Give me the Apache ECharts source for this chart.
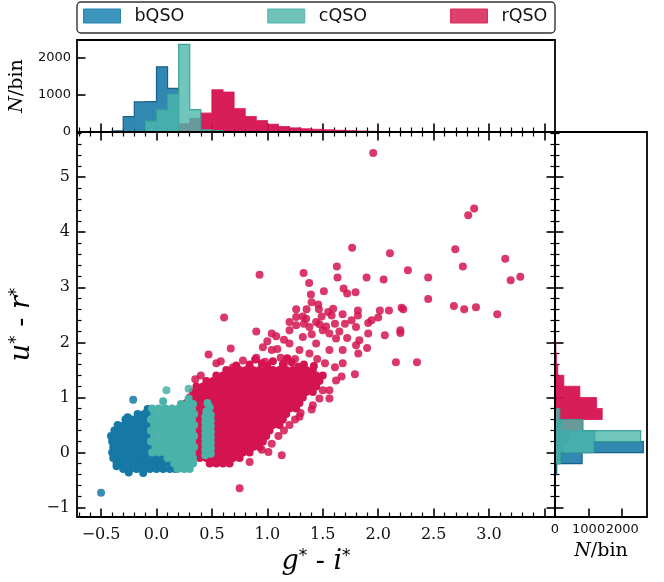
<!DOCTYPE html>
<html><head><meta charset="utf-8">
<script src="https://cdn.jsdelivr.net/npm/echarts@6/dist/echarts.min.js"></script>
<style>html,body{margin:0;padding:0;background:#fff;}#c{width:664px;height:582px;}</style>
</head><body><div id="c"></div>
<script>
// ---------------- DATA ----------------
const legendNames = ['bQSO', 'cQSO', 'rQSO'];

// main-plot ticks
const xMajorTicks = [-0.5, 0, 0.5, 1, 1.5, 2, 2.5, 3, 3.5];
const xTickLabels = [-0.5, 0, 0.5, 1, 1.5, 2, 2.5, 3];
const xMinorTicks = [-0.7,-0.6,-0.4,-0.3,-0.2,-0.1,0.1,0.2,0.3,0.4,0.6,0.7,0.8,0.9,1.1,1.2,1.3,1.4,1.6,1.7,1.8,1.9,2.1,2.2,2.3,2.4,2.6,2.7,2.8,2.9,3.1,3.2,3.3,3.4];
const yMajorTicks = [-1, 0, 1, 2, 3, 4, 5];
const yMinorTicks = [-0.8,-0.6,-0.4,-0.2,0.2,0.4,0.6,0.8,1.2,1.4,1.6,1.8,2.2,2.4,2.6,2.8,3.2,3.4,3.6,3.8,4.2,4.4,4.6,4.8,5.2,5.4,5.6,5.8];
const histTicks = [0, 1000, 2000];

// top histogram (g*-i*), bins of 0.1
const topEdges = [-0.4,-0.3,-0.2,-0.1,0.0,0.1,0.2,0.3,0.4,0.5,0.6,0.7,0.8,0.9,1.0,1.1,1.2,1.3,1.4,1.5,1.6,1.7,1.8,1.9,2.0];
const bTop = [30,410,805,815,1745,1170,0,0,0,0,0,0,0,0,0,0,0,0,0,0,0,0,0,0];
const cTop = [0,0,0,290,596,1015,2350,600,60,40,0,0,0,0,0,0,0,0,0,0,0,0,0,0];
const rTop = [0,0,0,0,0,0,220,363,505,1132,1070,625,414,303,205,147,110,85,70,60,45,35,25,18];

// right histogram (u*-r*), bins of 0.2
const rightEdges = [-0.4,-0.2,0.0,0.2,0.4,0.6,0.8,1.0,1.2,1.4,1.6,1.8,2.0,2.2,2.4,2.6];
const bRight = [50,806,2627,1185,200,0,0,0,0,0,0,0,0,0,0];
const cRight = [0,160,1155,2548,830,140,0,0,0,0,0,0,0,0,0];
const rRight = [0,100,250,400,820,1403,1235,737,260,80,40,25,15,10,8];

// scatter: bQSO dense cloud (g*-i*, u*-r*)
const bQSO_core = [
[-0.30,-0.3],[-0.24,-0.3],[-0.18,-0.3],[-0.12,-0.3],[-0.06,-0.3],[0.00,-0.3],[0.06,-0.3],[0.12,-0.3],[0.17,-0.3],
[-0.36,-0.2],[-0.30,-0.2],[-0.24,-0.2],[-0.18,-0.2],[-0.12,-0.2],[-0.06,-0.2],[0.00,-0.2],[0.06,-0.2],[0.12,-0.2],[0.18,-0.2],
[-0.39,-0.1],[-0.33,-0.1],[-0.27,-0.1],[-0.21,-0.1],[-0.15,-0.1],[-0.09,-0.1],[-0.03,-0.1],[0.03,-0.1],[0.09,-0.1],[0.15,-0.1],
[-0.40,0.0],[-0.34,0.0],[-0.28,0.0],[-0.22,0.0],[-0.16,0.0],[-0.10,0.0],[-0.04,0.0],[0.02,0.0],
[-0.39,0.1],[-0.33,0.1],[-0.27,0.1],[-0.21,0.1],[-0.15,0.1],[-0.09,0.1],[-0.03,0.1],
[-0.40,0.2],[-0.34,0.2],[-0.28,0.2],[-0.22,0.2],[-0.16,0.2],[-0.10,0.2],[-0.04,0.2],
[-0.39,0.3],[-0.33,0.3],[-0.27,0.3],[-0.21,0.3],[-0.15,0.3],[-0.09,0.3],[-0.03,0.3],
[-0.38,0.4],[-0.32,0.4],[-0.26,0.4],[-0.20,0.4],[-0.14,0.4],[-0.08,0.4],[-0.02,0.4],
[-0.35,0.5],[-0.29,0.5],[-0.23,0.5],[-0.17,0.5],[-0.11,0.5],[-0.05,0.5],[0.01,0.5],
[-0.28,0.6],[-0.22,0.6],[-0.16,0.6],[-0.10,0.6],[-0.04,0.6],
[-0.17,0.7],[-0.11,0.7],[-0.05,0.7],
[-0.08,0.79],[-0.26,0.64],[-0.36,-0.25],[-0.25,-0.36],[-0.12,-0.37],[-0.41,0.3]
];
const bQSO_outer = [[-0.21,0.96],[-0.50,-0.73]];

// scatter: cQSO dense cloud + strip
const cQSO_core = [
[0.19,-0.3],[0.25,-0.3],[0.30,-0.3],
[0.16,-0.2],[0.22,-0.2],[0.28,-0.2],[0.33,-0.2],
[0.10,-0.1],[0.16,-0.1],[0.22,-0.1],[0.28,-0.1],[0.33,-0.1],
[-0.04,0.0],[0.02,0.0],[0.08,0.0],[0.14,0.0],[0.20,0.0],[0.26,0.0],[0.32,0.0],
[-0.01,0.1],[0.05,0.1],[0.11,0.1],[0.17,0.1],[0.23,0.1],[0.29,0.1],[0.34,0.1],
[-0.05,0.2],[0.02,0.2],[0.08,0.2],[0.14,0.2],[0.20,0.2],[0.26,0.2],[0.32,0.2],
[-0.02,0.3],[0.05,0.3],[0.11,0.3],[0.17,0.3],[0.23,0.3],[0.29,0.3],[0.34,0.3],
[-0.05,0.4],[0.02,0.4],[0.08,0.4],[0.14,0.4],[0.20,0.4],[0.26,0.4],[0.32,0.4],
[-0.02,0.5],[0.05,0.5],[0.11,0.5],[0.17,0.5],[0.23,0.5],[0.29,0.5],[0.34,0.5],
[-0.05,0.6],[0.02,0.6],[0.08,0.6],[0.14,0.6],[0.20,0.6],[0.26,0.6],[0.32,0.6],
[-0.02,0.7],[0.05,0.7],[0.11,0.7],[0.17,0.7],[0.23,0.7],[0.29,0.7],[0.34,0.7],
[-0.04,0.8],[0.02,0.8],[0.08,0.8],[0.14,0.8],[0.20,0.8],[0.26,0.8],[0.32,0.8],
[0.22,0.88],[0.28,0.88],[0.33,0.88],[0.29,0.98],[0.06,0.93],
[0.44,-0.05],[0.49,-0.02],[0.44,0.05],[0.49,0.08],[0.44,0.15],[0.49,0.18],[0.44,0.25],[0.49,0.28],[0.44,0.35],[0.49,0.38],
[0.44,0.45],[0.49,0.48],[0.44,0.55],[0.49,0.58],[0.44,0.65],[0.49,0.68],[0.45,0.75],[0.48,0.82],[0.46,0.90]
];
const cQSO_outer = [[0.09,1.13],[0.29,1.16]];

// scatter: rQSO dense core
const rQSO_core = [
[0.48,-0.2],[0.54,-0.2],[0.60,-0.2],[0.66,-0.2],
[0.39,-0.1],[0.45,-0.1],[0.51,-0.1],[0.57,-0.1],[0.63,-0.1],[0.69,-0.1],[0.75,-0.1],
[0.36,0],[0.42,0],[0.48,0],[0.54,0],[0.60,0],[0.66,0],[0.72,0],[0.78,0],[0.84,0],
[0.33,0.1],[0.39,0.1],[0.45,0.1],[0.51,0.1],[0.57,0.1],[0.63,0.1],[0.69,0.1],[0.75,0.1],[0.81,0.1],[0.87,0.1],[0.93,0.1],
[0.36,0.2],[0.42,0.2],[0.48,0.2],[0.54,0.2],[0.60,0.2],[0.66,0.2],[0.72,0.2],[0.78,0.2],[0.84,0.2],[0.90,0.2],[0.96,0.2],
[0.33,0.3],[0.39,0.3],[0.45,0.3],[0.51,0.3],[0.57,0.3],[0.63,0.3],[0.69,0.3],[0.75,0.3],[0.81,0.3],[0.87,0.3],[0.93,0.3],[0.99,0.3],
[0.36,0.4],[0.42,0.4],[0.48,0.4],[0.54,0.4],[0.60,0.4],[0.66,0.4],[0.72,0.4],[0.78,0.4],[0.84,0.4],[0.90,0.4],[0.96,0.4],[1.02,0.4],
[0.33,0.5],[0.39,0.5],[0.45,0.5],[0.51,0.5],[0.57,0.5],[0.63,0.5],[0.69,0.5],[0.75,0.5],[0.81,0.5],[0.87,0.5],[0.93,0.5],[0.99,0.5],[1.05,0.5],[1.11,0.5],
[0.36,0.6],[0.42,0.6],[0.48,0.6],[0.54,0.6],[0.60,0.6],[0.66,0.6],[0.72,0.6],[0.78,0.6],[0.84,0.6],[0.90,0.6],[0.96,0.6],[1.02,0.6],[1.08,0.6],[1.14,0.6],
[0.33,0.7],[0.39,0.7],[0.45,0.7],[0.51,0.7],[0.57,0.7],[0.63,0.7],[0.69,0.7],[0.75,0.7],[0.81,0.7],[0.87,0.7],[0.93,0.7],[0.99,0.7],[1.05,0.7],[1.11,0.7],[1.17,0.7],
[0.36,0.8],[0.42,0.8],[0.48,0.8],[0.54,0.8],[0.60,0.8],[0.66,0.8],[0.72,0.8],[0.78,0.8],[0.84,0.8],[0.90,0.8],[0.96,0.8],[1.02,0.8],[1.08,0.8],[1.14,0.8],[1.20,0.8],[1.26,0.8],
[0.27,0.9],[0.33,0.9],[0.39,0.9],[0.45,0.9],[0.51,0.9],[0.57,0.9],[0.63,0.9],[0.69,0.9],[0.75,0.9],[0.81,0.9],[0.87,0.9],[0.93,0.9],[0.99,0.9],[1.05,0.9],[1.11,0.9],[1.17,0.9],[1.23,0.9],[1.29,0.9],
[0.30,1.0],[0.36,1.0],[0.42,1.0],[0.48,1.0],[0.54,1.0],[0.60,1.0],[0.66,1.0],[0.72,1.0],[0.78,1.0],[0.84,1.0],[0.90,1.0],[0.96,1.0],[1.02,1.0],[1.08,1.0],[1.14,1.0],[1.20,1.0],[1.26,1.0],[1.32,1.0],
[0.33,1.1],[0.39,1.1],[0.45,1.1],[0.51,1.1],[0.57,1.1],[0.63,1.1],[0.69,1.1],[0.75,1.1],[0.81,1.1],[0.87,1.1],[0.93,1.1],[0.99,1.1],[1.05,1.1],[1.11,1.1],[1.17,1.1],[1.23,1.1],[1.29,1.1],[1.35,1.1],[1.41,1.1],
[0.36,1.2],[0.42,1.2],[0.48,1.2],[0.54,1.2],[0.60,1.2],[0.66,1.2],[0.72,1.2],[0.78,1.2],[0.84,1.2],[0.90,1.2],[0.96,1.2],[1.02,1.2],[1.08,1.2],[1.14,1.2],[1.20,1.2],[1.26,1.2],[1.32,1.2],[1.38,1.2],[1.44,1.2],
[0.45,1.3],[0.51,1.3],[0.57,1.3],[0.63,1.3],[0.69,1.3],[0.75,1.3],[0.81,1.3],[0.87,1.3],[0.93,1.3],[0.99,1.3],[1.05,1.3],[1.11,1.3],[1.17,1.3],[1.23,1.3],[1.29,1.3],[1.35,1.3],[1.41,1.3],[1.47,1.3],
[0.54,1.4],[0.60,1.4],[0.66,1.4],[0.72,1.4],[0.78,1.4],[0.84,1.4],[0.90,1.4],[0.96,1.4],[1.02,1.4],[1.08,1.4],[1.14,1.4],[1.20,1.4],[1.26,1.4],[1.32,1.4],[1.38,1.4],[1.44,1.4],[1.50,1.4],
[0.63,1.5],[0.69,1.5],[0.75,1.5],[0.81,1.5],[0.87,1.5],[0.93,1.5],[0.99,1.5],[1.05,1.5],[1.11,1.5],[1.17,1.5],[1.23,1.5],[1.29,1.5],[1.35,1.5],[1.41,1.5],
[0.72,1.58],[0.84,1.60],[0.95,1.62],[1.05,1.66],[1.14,1.60],[1.22,1.64],[1.33,1.60],[1.42,1.57],[1.00,1.57],[1.28,1.56],[0.89,1.69],[1.18,1.71]
];

// scatter: rQSO outskirts
const rQSO_outer = [
[1.955,5.44],[2.866,4.43],[2.812,4.31],[1.765,3.72],[2.106,3.62],[2.695,3.69],[3.146,3.52],[2.764,3.38],[1.627,3.38],[1.327,3.26],[0.93,3.23],
[2.268,3.31],[3.195,3.13],[3.282,3.19],[1.633,3.18],[1.895,3.18],[2.049,3.14],[2.451,3.18],[1.377,3.08],[1.688,2.98],[1.72,2.89],[1.796,2.91],
[1.51,2.93],[1.393,2.87],[1.399,2.73],[2.451,2.79],[2.683,2.66],[2.776,2.60],[2.882,2.64],[3.074,2.51],[2.015,2.58],[2.097,2.58],[2.211,2.63],
[2.226,2.60],[1.459,2.69],[1.465,2.60],[1.354,2.60],[1.594,2.61],[1.549,2.55],[1.817,2.58],[1.817,2.49],[1.679,2.51],
[1.32,2.47],[1.33,2.34],[1.44,2.37],[1.47,2.33],[1.53,2.29],[1.58,2.49],[1.61,2.34],[1.70,2.34],[1.76,2.40],[1.80,2.28],[1.91,2.35],[1.94,2.40],
[2.20,2.22],[1.49,2.47],[1.26,2.60],
[0.61,2.45],[0.90,2.20],[0.67,1.89],[0.47,1.78],[0.96,1.91],[1.09,1.88],[1.04,2.16],[1.08,2.11],[1.20,2.22],[1.26,2.31],[1.26,2.46],[1.35,2.43],
[1.20,2.37],[1.38,2.28],[1.50,2.22],[1.56,2.16],[1.62,2.07],[1.68,1.86],[1.56,1.86],[1.44,1.98],[1.32,2.10],[1.82,1.80],[1.80,1.95],[1.83,2.04],
[1.91,2.16],[2.06,2.13],[2.20,2.17],[2.16,1.64],[2.35,1.64],[1.79,1.42],[1.67,1.38],[1.62,1.31],[1.61,1.55],[1.68,1.62],[1.50,1.13],[1.56,1.13],
[1.56,0.98],[1.47,0.98],[1.40,0.78],[1.41,0.86],[1.29,0.65],[1.20,0.50],[1.04,0.16],[1.01,0.01],[1.13,-0.05],[0.84,-0.17],[0.62,-0.14],[0.74,0.01],
[0.75,-0.65],[0.54,1.62],[0.69,1.55],[0.78,1.67],[1.04,1.86],[1.20,1.98],[1.29,1.86],[1.38,1.80],[1.12,1.72],[1.25,1.70],[1.45,1.70],[0.90,1.72],
[0.98,1.65],[1.16,1.64],[1.52,1.62],[0.40,1.40],[0.35,1.33],[0.58,1.66],[1.00,2.02],[1.15,2.05],[1.40,2.15],[1.65,2.20],[1.72,2.08],[1.90,1.90],
[2.00,2.45],[1.10,0.30],[1.15,0.40],[1.25,0.60],[0.95,0.05],[1.30,0.72]
];

// ---------------- STYLE / LAYOUT ----------------
const COL = {
  bQSO: { solid: '#1678a5', fill: 'rgba(21,120,166,0.88)', edge: '#1a5f8c', leg: '#3d94bc', legEdge: '#2a82ad' },
  cQSO: { solid: '#4ab2a8', fill: 'rgba(76,184,171,0.80)', edge: 'rgba(55,160,150,0.95)', leg: '#6dc3b9', legEdge: '#55b5aa' },
  rQSO: { solid: '#d41450', fill: 'rgba(213,18,80,0.95)', edge: 'rgba(213,18,80,0.75)', leg: '#df416f', legEdge: '#d52a5e' }
};
const G_MAIN = { left: 77, top: 132, width: 478, height: 385 };
const G_TOP = { left: 77, top: 40, width: 478, height: 92 };
const G_RIGHT = { left: 555, top: 132, width: 92, height: 385 };
const XR = [-0.717, 3.595], YR = [-1.17, 5.82];
const TOPMAX = 2465, RIGHTMAX = 2737;

const minus = v => (v < 0 ? '\u2212' : '') + Math.abs(v);
const tickStyle = (w) => ({ color: '#000', width: w });

function ax(extra) {
  return Object.assign({
    type: 'value', axisLine: { show: false, onZero: false }, splitLine: { show: false },
    axisLabel: { show: false }, axisTick: { show: false }, axisPointer: { show: false }
  }, extra);
}
function ticks(vals, len, w) {
  return { show: true, inside: true, length: len, customValues: vals, lineStyle: tickStyle(w) };
}

function stepVerts(edges, counts, horizontal) {
  let i0 = counts.findIndex(c => c > 0), i1 = counts.length - 1;
  while (i1 >= 0 && counts[i1] <= 0) i1--;
  const P = (pos, val) => horizontal ? [val, pos] : [pos, val];
  const v = [P(edges[i0], 0)];
  for (let i = i0; i <= i1; i++) { v.push(P(edges[i], counts[i])); v.push(P(edges[i + 1], counts[i])); }
  v.push(P(edges[i1 + 1], 0));
  return v;
}
function histSeries(name, xi, yi, edges, counts, horizontal, col) {
  const verts = stepVerts(edges, counts, horizontal);
  const data = counts.map((c, i) => horizontal ? [c, edges[i], edges[i + 1]] : [edges[i], edges[i + 1], c]);
  return {
    type: 'custom', name: name + ' hist', coordinateSystem: 'cartesian2d', xAxisIndex: xi, yAxisIndex: yi,
    silent: true, animation: false, clip: true,
    encode: horizontal ? { x: 0, y: [1, 2] } : { x: [0, 1], y: 2 },
    data,
    renderItem: (params, api) => {
      if (params.dataIndex !== 0) return null;
      const pix = verts.map(p => api.coord(p));
      return {
        type: 'group', children: [
          { type: 'polygon', shape: { points: pix }, style: { fill: col.fill, lineWidth: 0 } },
          { type: 'polyline', shape: { points: pix }, style: { fill: null, stroke: col.edge, lineWidth: 1.2 } }
        ]
      };
    }
  };
}
function scatter(name, data, dense) {
  return {
    type: 'scatter', name, xAxisIndex: 0, yAxisIndex: 0, data, symbol: 'circle', symbolSize: 8,
    itemStyle: { color: COL[name].solid, opacity: dense ? 1 : 0.85, borderWidth: 0 },
    silent: true, animation: false, emphasis: { disabled: true }
  };
}

const serifRich = {
  i: { fontFamily: 'DejaVu Serif', fontStyle: 'italic', fontSize: 27, color: '#000' },
  s: { fontFamily: 'DejaVu Sans', fontSize: 17, verticalAlign: 'top', color: '#000' }
};
const nRich = { i: { fontFamily: 'DejaVu Serif', fontStyle: 'italic', fontSize: 19, color: '#000' } };
const histLabel = (margin) => ({
  show: true, customValues: histTicks, formatter: v => String(Math.round(v)), hideOverlap: false,
  showMinLabel: true, showMaxLabel: true, fontFamily: 'DejaVu Sans', fontSize: 13, color: '#111', margin
});

const option = {
  animation: false,
  backgroundColor: '#fff',
  grid: [
    Object.assign({ show: false }, G_MAIN),
    Object.assign({ show: false }, G_TOP),
    Object.assign({ show: false }, G_RIGHT)
  ],
  xAxis: [
    ax({ gridIndex: 0, position: 'bottom', min: XR[0], max: XR[1], axisTick: ticks(xMajorTicks, 8.5, 1.6),
      axisLabel: { show: true, customValues: xTickLabels, formatter: v => (v < 0 ? '\u2212' : '') + Math.abs(v).toFixed(1),
        fontFamily: 'DejaVu Serif', fontSize: 16, color: '#111', margin: 10 },
      name: '{i|g}{s|*} - {i|i}{s|*}', nameLocation: 'middle', nameGap: 31,
      nameTextStyle: { fontFamily: 'DejaVu Serif', fontSize: 27, color: '#000', rich: serifRich } }),
    ax({ gridIndex: 0, position: 'bottom', min: XR[0], max: XR[1], axisTick: ticks(xMinorTicks, 4.5, 1.2) }),
    ax({ gridIndex: 0, position: 'top', min: XR[0], max: XR[1], axisTick: ticks(xMajorTicks, 8.5, 1.6) }),
    ax({ gridIndex: 0, position: 'top', min: XR[0], max: XR[1], axisTick: ticks(xMinorTicks, 4.5, 1.2) }),
    ax({ gridIndex: 1, position: 'bottom', min: XR[0], max: XR[1], axisTick: ticks(xMajorTicks, 8.5, 1.6) }),
    ax({ gridIndex: 1, position: 'bottom', min: XR[0], max: XR[1], axisTick: ticks(xMinorTicks, 4.5, 1.2) }),
    ax({ gridIndex: 2, position: 'bottom', min: 0, max: RIGHTMAX, axisTick: ticks(histTicks, 8.5, 1.6),
      axisLabel: histLabel(6),
      name: '{i|N}/bin', nameLocation: 'middle', nameGap: 25,
      nameTextStyle: { fontFamily: 'DejaVu Serif', fontSize: 19, color: '#000', rich: nRich } })
  ],
  yAxis: [
    ax({ gridIndex: 0, position: 'left', min: YR[0], max: YR[1], axisTick: ticks(yMajorTicks, 8.5, 1.6),
      axisLabel: { show: true, customValues: yMajorTicks, formatter: minus, fontFamily: 'DejaVu Serif', fontSize: 16, color: '#111', margin: 7 },
      name: '{i|u}{s|*} - {i|r}{s|*}', nameLocation: 'middle', nameGap: 28, nameRotate: 90,
      nameTextStyle: { fontFamily: 'DejaVu Serif', fontSize: 27, color: '#000', rich: serifRich } }),
    ax({ gridIndex: 0, position: 'left', min: YR[0], max: YR[1], axisTick: ticks(yMinorTicks, 4.5, 1.2) }),
    ax({ gridIndex: 0, position: 'right', min: YR[0], max: YR[1], axisTick: ticks(yMajorTicks, 8.5, 1.6) }),
    ax({ gridIndex: 0, position: 'right', min: YR[0], max: YR[1], axisTick: ticks(yMinorTicks, 4.5, 1.2) }),
    ax({ gridIndex: 1, position: 'left', min: 0, max: TOPMAX, axisTick: ticks(histTicks, 8.5, 1.6),
      axisLabel: histLabel(6),
      name: '{i|N}/bin', nameLocation: 'middle', nameGap: 40, nameRotate: 90,
      nameTextStyle: { fontFamily: 'DejaVu Serif', fontSize: 19, color: '#000', rich: nRich } }),
    ax({ gridIndex: 2, position: 'left', min: YR[0], max: YR[1], axisTick: ticks(yMajorTicks, 8.5, 1.6) }),
    ax({ gridIndex: 2, position: 'left', min: YR[0], max: YR[1], axisTick: ticks(yMinorTicks, 4.5, 1.2) })
  ],
  legend: {
    show: true, left: 83, top: 7, orient: 'horizontal', icon: 'rect', itemWidth: 37, itemHeight: 14, itemGap: 83,
    padding: 0, selectedMode: false,
    textStyle: { fontFamily: 'DejaVu Sans', fontSize: 17.5, color: '#111', padding: [0, 0, 0, 9] },
    data: legendNames.map(n => ({ name: n, itemStyle: { color: COL[n].leg, borderColor: COL[n].legEdge, borderWidth: 1, opacity: 1 } }))
  },
  graphic: [
    { type: 'rect', z: 100, silent: true, shape: { x: 77, y: 2, width: 478, height: 31, r: 4 }, style: { fill: null, stroke: '#333', lineWidth: 1.4 } },
    { type: 'rect', z: 100, silent: true, shape: { x: G_MAIN.left, y: G_MAIN.top, width: G_MAIN.width, height: G_MAIN.height }, style: { fill: null, stroke: '#000', lineWidth: 1.8 } },
    { type: 'rect', z: 100, silent: true, shape: { x: G_TOP.left, y: G_TOP.top, width: G_TOP.width, height: G_TOP.height }, style: { fill: null, stroke: '#000', lineWidth: 1.8 } },
    { type: 'rect', z: 100, silent: true, shape: { x: G_RIGHT.left, y: G_RIGHT.top, width: G_RIGHT.width, height: G_RIGHT.height }, style: { fill: null, stroke: '#000', lineWidth: 1.8 } }
  ],
  series: [
    histSeries('rQSO', 4, 4, topEdges, rTop, false, COL.rQSO),
    histSeries('bQSO', 4, 4, topEdges, bTop, false, COL.bQSO),
    histSeries('cQSO', 4, 4, topEdges, cTop, false, COL.cQSO),
    histSeries('rQSO', 6, 5, rightEdges, rRight, true, COL.rQSO),
    histSeries('bQSO', 6, 5, rightEdges, bRight, true, COL.bQSO),
    histSeries('cQSO', 6, 5, rightEdges, cRight, true, COL.cQSO),
    scatter('rQSO', rQSO_outer, false),
    scatter('rQSO', rQSO_core, true),
    scatter('bQSO', bQSO_outer, false),
    scatter('bQSO', bQSO_core, true),
    scatter('cQSO', cQSO_outer, false),
    scatter('cQSO', cQSO_core, true)
  ]
};

const chart = echarts.init(document.getElementById('c'), null, { renderer: 'canvas', width: 664, height: 582 });
chart.setOption(option);
</script>
</body></html>
